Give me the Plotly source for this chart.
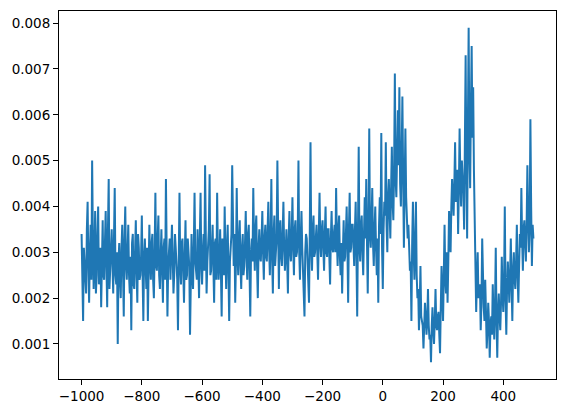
import plotly.graph_objects as go

x_start = -1000
x_step = 5

# values at x = -1000, -995, ..., 500 (one list per 100 units)
y_m1000 = [0.0034, 0.0015, 0.0028, 0.0021, 0.0041, 0.0019, 0.0036, 0.0050, 0.0022, 0.0039,
           0.0025, 0.0040, 0.0027, 0.0018, 0.0037, 0.0024, 0.0039, 0.0018, 0.0046, 0.0026]
y_m900 = [0.0035, 0.0021, 0.0044, 0.0023, 0.0010, 0.0032, 0.0020, 0.0036, 0.0016, 0.0040,
          0.0024, 0.0036, 0.0021, 0.0013, 0.0034, 0.0022, 0.0037, 0.0019, 0.0031, 0.0025]
y_m800 = [0.0038, 0.0015, 0.0033, 0.0022, 0.0015, 0.0036, 0.0024, 0.0034, 0.0020, 0.0043,
          0.0026, 0.0038, 0.0022, 0.0035, 0.0019, 0.0033, 0.0046, 0.0016, 0.0031, 0.0024]
y_m700 = [0.0036, 0.0021, 0.0034, 0.0027, 0.0013, 0.0043, 0.0023, 0.0033, 0.0019, 0.0037,
          0.0025, 0.0031, 0.0012, 0.0034, 0.0022, 0.0043, 0.0026, 0.0035, 0.0020, 0.0043]
y_m600 = [0.0023, 0.0034, 0.0049, 0.0021, 0.0031, 0.0047, 0.0026, 0.0036, 0.0019, 0.0033,
          0.0043, 0.0024, 0.0035, 0.0016, 0.0032, 0.0040, 0.0022, 0.0036, 0.0015, 0.0030]
y_m500 = [0.0049, 0.0027, 0.0019, 0.0044, 0.0025, 0.0037, 0.0022, 0.0034, 0.0027, 0.0039,
          0.0024, 0.0036, 0.0016, 0.0033, 0.0044, 0.0026, 0.0038, 0.0020, 0.0035, 0.0028]
y_m400 = [0.0039, 0.0024, 0.0036, 0.0028, 0.0041, 0.0025, 0.0046, 0.0021, 0.0038, 0.0029,
          0.0050, 0.0022, 0.0037, 0.0027, 0.0041, 0.0026, 0.0035, 0.0021, 0.0039, 0.0028]
y_m300 = [0.0042, 0.0025, 0.0037, 0.0030, 0.0050, 0.0024, 0.0039, 0.0027, 0.0016, 0.0034,
          0.0028, 0.0019, 0.0054, 0.0026, 0.0038, 0.0030, 0.0036, 0.0024, 0.0043, 0.0029]
y_m200 = [0.0037, 0.0026, 0.0040, 0.0029, 0.0035, 0.0023, 0.0039, 0.0030, 0.0036, 0.0044,
          0.0027, 0.0038, 0.0025, 0.0021, 0.0037, 0.0029, 0.0040, 0.0019, 0.0043, 0.0031]
y_m100 = [0.0036, 0.0027, 0.0041, 0.0016, 0.0053, 0.0028, 0.0038, 0.0025, 0.0042, 0.0046,
          0.0021, 0.0057, 0.0031, 0.0044, 0.0027, 0.0040, 0.0025, 0.0019, 0.0042, 0.0056]
y_p0 = [0.0022, 0.0041, 0.0054, 0.0030, 0.0046, 0.0033, 0.0053, 0.0037, 0.0069, 0.0042,
        0.0061, 0.0066, 0.0040, 0.0064, 0.0031, 0.0057, 0.0039, 0.0036, 0.0026, 0.0015]
y_p100 = [0.0041, 0.0024, 0.0041, 0.0020, 0.0013, 0.0027, 0.0015, 0.0009, 0.0019, 0.0012,
          0.0022, 0.0011, 0.0006, 0.0018, 0.0010, 0.0022, 0.0013, 0.0017, 0.0008, 0.0027]
y_p200 = [0.0015, 0.0036, 0.0021, 0.0019, 0.0039, 0.0030, 0.0046, 0.0038, 0.0054, 0.0042,
          0.0034, 0.0057, 0.0040, 0.0047, 0.0035, 0.0073, 0.0033, 0.0079, 0.0044, 0.0075]
y_p300 = [0.0066, 0.0035, 0.0017, 0.0030, 0.0021, 0.0013, 0.0033, 0.0018, 0.0024, 0.0009,
          0.0019, 0.0007, 0.0016, 0.0023, 0.0011, 0.0031, 0.0007, 0.0021, 0.0013, 0.0029]
y_p400 = [0.0017, 0.0040, 0.0012, 0.0028, 0.0019, 0.0033, 0.0015, 0.0030, 0.0022, 0.0036,
          0.0019, 0.0034, 0.0044, 0.0026, 0.0037, 0.0028, 0.0049, 0.0030, 0.0059, 0.0027, 0.0033]

# values at the half steps x = -997.5, -992.5, ..., 497.5
h_m1000 = [0.0022, 0.0031, 0.0026, 0.0035, 0.0027, 0.0030, 0.0024, 0.0033, 0.0029, 0.0021,
           0.0034, 0.0023, 0.0031, 0.0028, 0.0025, 0.0032, 0.0027, 0.0035, 0.0022, 0.0030]
h_m900 = [0.0027, 0.0033, 0.0025, 0.0030, 0.0028, 0.0024, 0.0031, 0.0026, 0.0033, 0.0027,
          0.0030, 0.0025, 0.0029, 0.0032, 0.0023, 0.0030, 0.0026, 0.0034, 0.0024, 0.0029]
h_m800 = [0.0025, 0.0029, 0.0027, 0.0031, 0.0026, 0.0028, 0.0032, 0.0024, 0.0030, 0.0027,
          0.0033, 0.0025, 0.0029, 0.0026, 0.0031, 0.0024, 0.0030, 0.0027, 0.0033, 0.0028]
h_m700 = [0.0029, 0.0025, 0.0031, 0.0024, 0.0030, 0.0027, 0.0032, 0.0026, 0.0029, 0.0024,
          0.0033, 0.0027, 0.0030, 0.0025, 0.0031, 0.0028, 0.0024, 0.0030, 0.0033, 0.0027]
h_m600 = [0.0030, 0.0026, 0.0033, 0.0028, 0.0035, 0.0025, 0.0031, 0.0027, 0.0032, 0.0024,
          0.0030, 0.0028, 0.0026, 0.0033, 0.0025, 0.0029, 0.0031, 0.0026, 0.0028, 0.0034]
h_m500 = [0.0031, 0.0034, 0.0028, 0.0030, 0.0033, 0.0027, 0.0031, 0.0025, 0.0032, 0.0029,
          0.0034, 0.0026, 0.0030, 0.0028, 0.0032, 0.0035, 0.0027, 0.0031, 0.0029, 0.0033]
h_m400 = [0.0030, 0.0033, 0.0029, 0.0035, 0.0031, 0.0033, 0.0029, 0.0034, 0.0027, 0.0033,
          0.0030, 0.0035, 0.0029, 0.0034, 0.0031, 0.0030, 0.0028, 0.0033, 0.0030, 0.0034]
h_m300 = [0.0031, 0.0035, 0.0029, 0.0034, 0.0030, 0.0033, 0.0031, 0.0024, 0.0030, 0.0033,
          0.0027, 0.0034, 0.0031, 0.0035, 0.0029, 0.0033, 0.0030, 0.0034, 0.0032, 0.0035]
h_m200 = [0.0031, 0.0034, 0.0030, 0.0035, 0.0029, 0.0033, 0.0031, 0.0034, 0.0030, 0.0033,
          0.0035, 0.0029, 0.0032, 0.0030, 0.0028, 0.0034, 0.0031, 0.0035, 0.0030, 0.0036]
h_m100 = [0.0032, 0.0035, 0.0029, 0.0034, 0.0031, 0.0036, 0.0030, 0.0034, 0.0033, 0.0032,
          0.0036, 0.0034, 0.0037, 0.0032, 0.0035, 0.0031, 0.0033, 0.0036, 0.0034, 0.0031]
h_p0 = [0.0035, 0.0038, 0.0036, 0.0042, 0.0039, 0.0044, 0.0041, 0.0048, 0.0046, 0.0052,
        0.0049, 0.0045, 0.0051, 0.0047, 0.0044, 0.0042, 0.0033, 0.0030, 0.0028, 0.0032]
h_p100 = [0.0030, 0.0032, 0.0025, 0.0022, 0.0018, 0.0016, 0.0014, 0.0013, 0.0016, 0.0015,
          0.0014, 0.0012, 0.0014, 0.0013, 0.0015, 0.0014, 0.0016, 0.0012, 0.0018, 0.0021]
h_p200 = [0.0025, 0.0024, 0.0030, 0.0028, 0.0034, 0.0040, 0.0042, 0.0045, 0.0041, 0.0048,
          0.0044, 0.0046, 0.0050, 0.0043, 0.0055, 0.0048, 0.0058, 0.0052, 0.0062, 0.0055]
h_p300 = [0.0048, 0.0026, 0.0024, 0.0020, 0.0023, 0.0019, 0.0021, 0.0015, 0.0017, 0.0013,
          0.0015, 0.0014, 0.0012, 0.0016, 0.0018, 0.0015, 0.0017, 0.0016, 0.0019, 0.0021]
h_p400 = [0.0023, 0.0020, 0.0022, 0.0024, 0.0025, 0.0023, 0.0026, 0.0024, 0.0028, 0.0025,
          0.0027, 0.0031, 0.0033, 0.0035, 0.0032, 0.0036, 0.0038, 0.0035, 0.0040, 0.0036]

y_main = (y_m1000 + y_m900 + y_m800 + y_m700 + y_m600 + y_m500 + y_m400 + y_m300 +
          y_m200 + y_m100 + y_p0 + y_p100 + y_p200 + y_p300 + y_p400)
y_half = (h_m1000 + h_m900 + h_m800 + h_m700 + h_m600 + h_m500 + h_m400 + h_m300 +
          h_m200 + h_m100 + h_p0 + h_p100 + h_p200 + h_p300 + h_p400)

x_vals, y_vals = [], []
for i, v in enumerate(y_main):
    x_vals.append(x_start + i * x_step)
    y_vals.append(v)
    if i < len(y_half):
        x_vals.append(x_start + i * x_step + x_step / 2)
        y_vals.append(y_half[i])

x_ticks = [-1000, -800, -600, -400, -200, 0, 200, 400]
y_ticks = [0.001, 0.002, 0.003, 0.004, 0.005, 0.006, 0.007, 0.008]

xmin, xmax = min(x_vals), max(x_vals)
ymin, ymax = min(y_vals), max(y_vals)
xr = xmax - xmin
yr = ymax - ymin

fig = go.Figure()
fig.add_trace(go.Scatter(x=x_vals, y=y_vals, mode="lines",
                         line=dict(color="#1f77b4", width=2), hoverinfo="skip"))

axis_common = dict(showgrid=False, zeroline=False, showline=True, linecolor="black",
                   linewidth=1, mirror=True, ticks="outside", ticklen=5, tickwidth=1,
                   tickcolor="black", automargin=False,
                   tickfont=dict(family="DejaVu Sans", size=13.5, color="black"))

fig.update_xaxes(range=[xmin - 0.05 * xr, xmax + 0.05 * xr], tickvals=x_ticks,
                 ticktext=[("\u2212" + str(-v)) if v < 0 else str(v) for v in x_ticks],
                 **axis_common)
fig.update_yaxes(range=[ymin - 0.05 * yr, ymax + 0.05 * yr], tickvals=y_ticks,
                 ticktext=["%.3f" % v for v in y_ticks], **axis_common)

fig.update_layout(width=565, height=413, showlegend=False,
                  plot_bgcolor="white", paper_bgcolor="white",
                  margin=dict(l=59, r=9, t=11, b=34))

fig.write_html("out.html", config={"displayModeBar": False},
               post_script="document.body.style.margin='0';document.body.style.overflow='hidden';")
